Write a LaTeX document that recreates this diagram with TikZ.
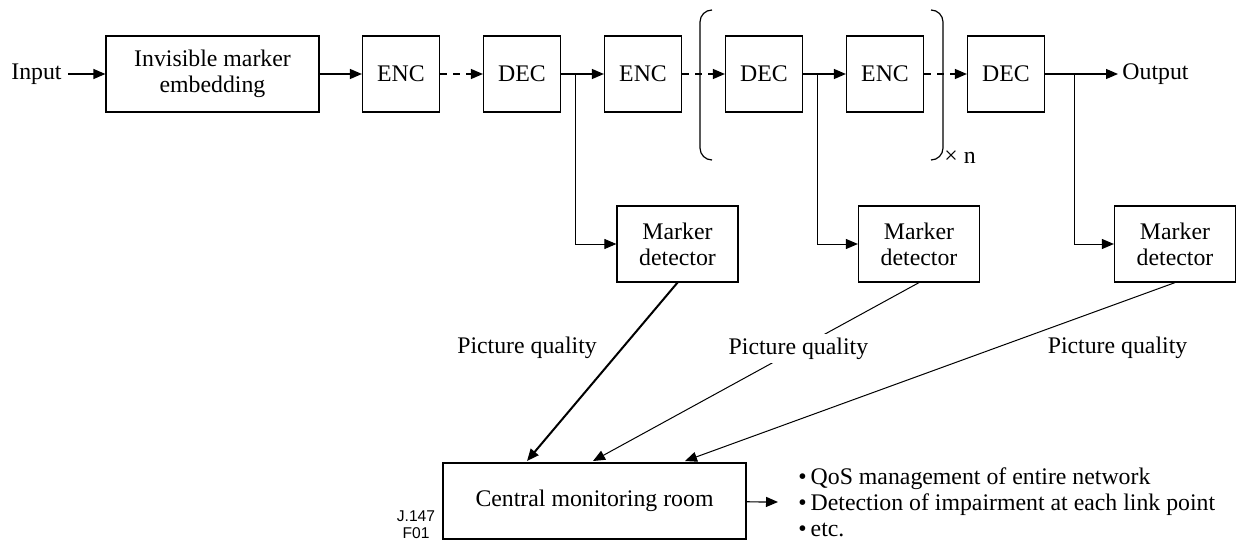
\documentclass[tikz,border=0pt]{standalone}
\usepackage{fontspec}
\setmainfont{Liberation Serif}
\newfontfamily\figfont{Liberation Sans}
\usetikzlibrary{arrows.meta}

\tikzset{
  blk/.style={draw, line width=0.6pt, inner sep=0pt, minimum width=38.5pt,
    minimum height=38pt, align=center},
  lbl/.style={inner sep=3pt},
  sig/.style={line width=0.6pt, -{Triangle[length=6pt,width=5pt]}},
  sigd/.style={sig, dash pattern=on 3.5pt off 3pt},
  qual/.style={line width=0.5pt, -{Triangle[length=6pt,width=5pt]}},
}

\begin{document}
\begin{tikzpicture}[x=0.5pt,y=-0.5pt,font=\fontsize{11.9}{13}\selectfont]
  \useasboundingbox (0,0) rectangle (1236,540);
  % transmission chain
  \node[lbl,anchor=east] (in) at (68,74) {Input};
  \node[blk,minimum width=106.5pt] (emb) at (212.5,74) {Invisible marker\\embedding};
  \node[blk] (enc1) at (401,74)  {ENC};
  \node[blk] (dec1) at (522,74)  {DEC};
  \node[blk] (enc2) at (643,74)  {ENC};
  \node[blk] (dec2) at (764,74)  {DEC};
  \node[blk] (enc3) at (885,74)  {ENC};
  \node[blk] (dec3) at (1006,74) {DEC};
  \node[lbl,anchor=west,inner sep=2pt] (out) at (1118,74) {Output};
  \draw[sig]  (in)   -- (emb);
  \draw[sig]  (emb)  -- (enc1);
  \draw[sigd] (enc1) -- (dec1);
  \draw[sig]  (dec1) -- (enc2);
  \draw[sigd] (enc2) -- (dec2);
  \draw[sig]  (dec2) -- (enc3);
  \draw[sigd] (enc3) -- (dec3);
  \draw[sig]  (dec3) -- (out.west);
  % repeated section
  \draw[line width=0.6pt,rounded corners=6pt] (712,10) -- (700,10) -- (700,160) -- (712,160);
  \draw[line width=0.6pt,rounded corners=6pt] (931,10) -- (943,10) -- (943,160) -- (931,160);
  \node[anchor=west,inner sep=0pt] (rep) at (944,157) {× n};
  % detectors
  \node[blk,minimum width=60.5pt] (md1) at (677.5,244) {Marker\\detector};
  \node[blk,minimum width=60.5pt] (md2) at (919,244)   {Marker\\detector};
  \node[blk,minimum width=60.5pt] (md3) at (1175,244)  {Marker\\detector};
  \coordinate (t1) at (575,74);
  \coordinate (t2) at (817,74);
  \coordinate (t3) at (1074,74);
  \draw[qual] (t1) |- (md1.west);
  \draw[qual] (t2) |- (md2.west);
  \draw[qual] (t3) |- (md3.west);
  % monitoring
  \node[blk,minimum width=151.5pt] (cmr) at (594.5,501) {Central monitoring room};
  \coordinate (q1) at (527,461);
  \coordinate (q2) at (593,461);
  \coordinate (q3) at (685,461);
  \node (pq1) at (527,348) {Picture quality};
  \node (pq3) at (1117.5,348) {Picture quality};
  \draw[qual,line width=1pt] (md1.south) -- (q1);
  \draw[qual] (md2.south) -- node[pos=0.37,fill=white,inner sep=2pt] (pq2) {Picture quality} (q2);
  \draw[qual] (md3.south) -- (q3);
  \node[anchor=west,align=left,inner xsep=10pt,inner ysep=0pt] (notes) at (778,502)
    {\textbullet\,QoS management of entire network\\
     \textbullet\,Detection of impairment at each link point\\
     \textbullet\,etc.};
  \draw[sig] (cmr) -- (notes.west);
  \node[align=center,inner sep=0pt,font=\figfont\fontsize{7.8}{8.5}\selectfont] (fig) at (416,524.5) {J.147\\F01};
\end{tikzpicture}
\end{document}
